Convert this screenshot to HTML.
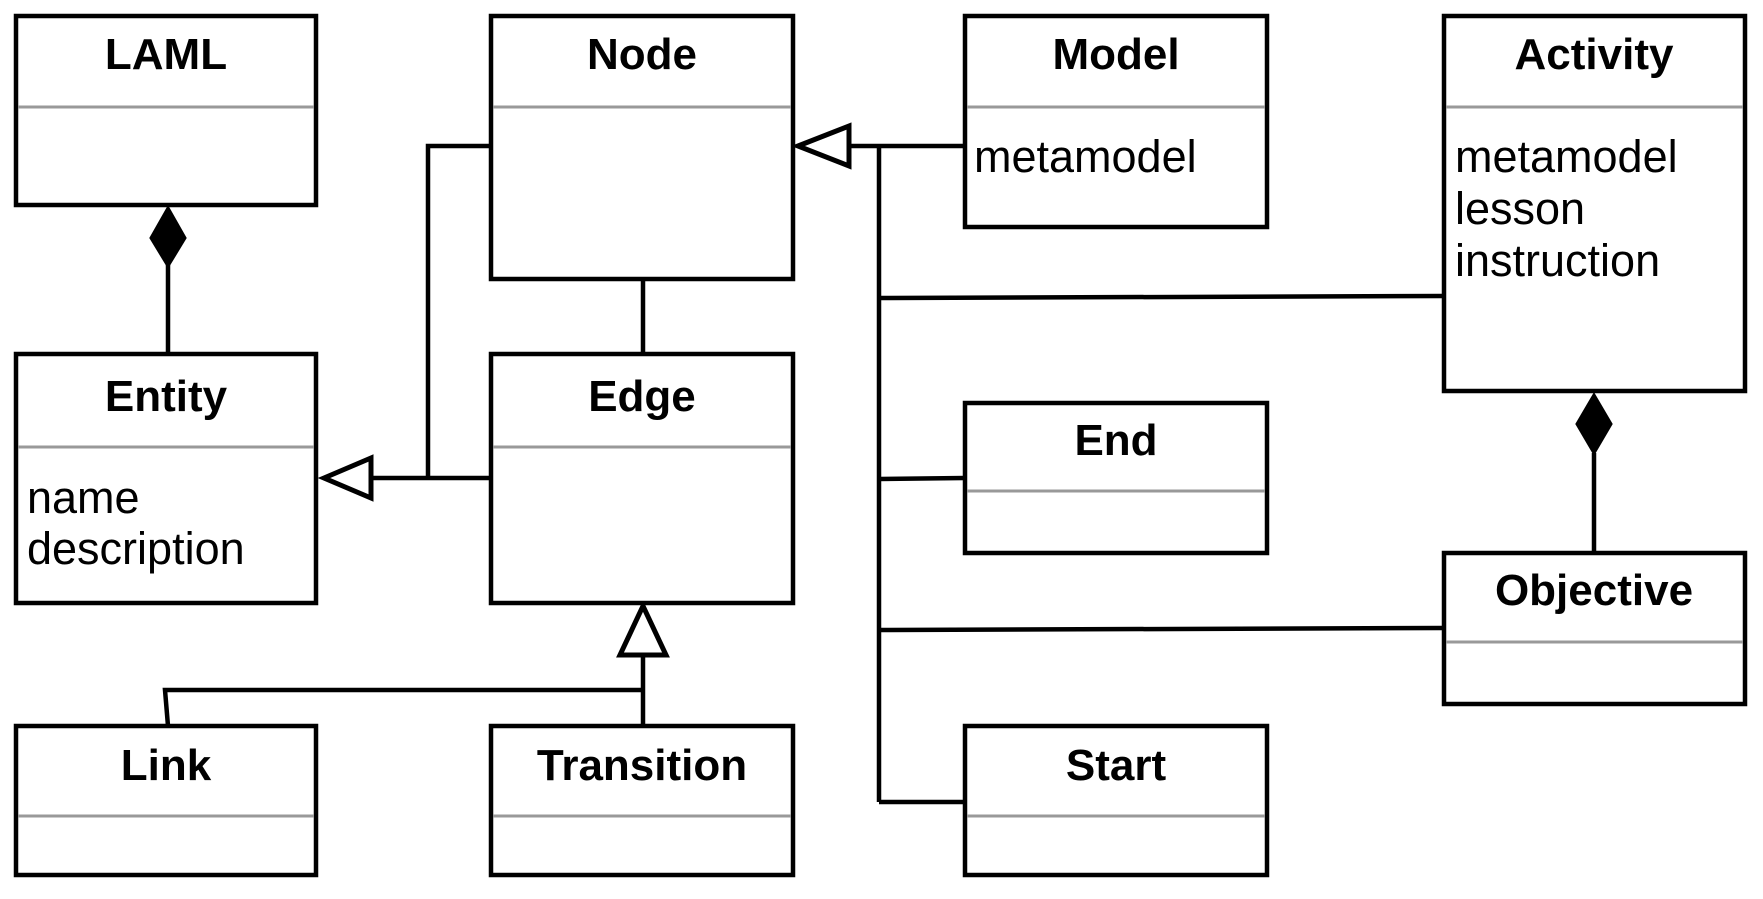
<!DOCTYPE html>
<html><head><meta charset="utf-8"><style>
html,body{margin:0;padding:0;background:#fff;}
svg{display:block;}
text{font-family:"Liberation Sans",Arial,sans-serif;fill:#000;}
.t{font-weight:bold;font-size:44px;text-anchor:middle;}
.a{font-size:45px;}
</style></head><body>
<svg width="1763" height="899" viewBox="0 0 1763 899" xmlns="http://www.w3.org/2000/svg">
<g fill="none" stroke="#000" stroke-width="4.5">
<line x1="168" y1="265" x2="168" y2="354"/>
<line x1="643" y1="279" x2="643" y2="354"/>
<polyline points="491,146 428,146 428,478"/>
<line x1="371" y1="478" x2="491" y2="478"/>
<line x1="849" y1="146" x2="965" y2="146"/>
<line x1="879" y1="146" x2="879" y2="802"/>
<line x1="879" y1="298" x2="1444" y2="296"/>
<line x1="879" y1="479" x2="965" y2="478"/>
<line x1="879" y1="630" x2="1444" y2="628"/>
<line x1="879" y1="802" x2="965" y2="802"/>
<line x1="1594" y1="453" x2="1594" y2="553"/>
<line x1="643" y1="655" x2="643" y2="726"/>
<polyline points="643,690 165,690 168,726"/>
</g>
<g stroke="#000" stroke-width="5">
<polygon points="324,478 371,458 371,498" fill="#fff"/>
<polygon points="798,146 849,126 849,166" fill="#fff"/>
<polygon points="643,606 620,655 666,655" fill="#fff"/>
<polygon points="168,208 185,238 168,266 151,238" fill="#000" stroke-width="3"/>
<polygon points="1594,395 1611,424 1594,453 1577,424" fill="#000" stroke-width="3"/>
</g>
<g fill="#fff" stroke="#000" stroke-width="4.5">
<rect x="16" y="16" width="300" height="189"/>
<rect x="491" y="16" width="302" height="263"/>
<rect x="965" y="16" width="302" height="211"/>
<rect x="1444" y="16" width="301" height="375"/>
<rect x="16" y="354" width="300" height="249"/>
<rect x="491" y="354" width="302" height="249"/>
<rect x="965" y="403" width="302" height="150"/>
<rect x="1444" y="553" width="301" height="151"/>
<rect x="16" y="726" width="300" height="149"/>
<rect x="491" y="726" width="302" height="149"/>
<rect x="965" y="726" width="302" height="149"/>
</g>
<g stroke="#999" stroke-width="3">
<line x1="18" y1="107" x2="314" y2="107"/>
<line x1="493" y1="107" x2="791" y2="107"/>
<line x1="967" y1="107" x2="1265" y2="107"/>
<line x1="1446" y1="107" x2="1743" y2="107"/>
<line x1="18" y1="447" x2="314" y2="447"/>
<line x1="493" y1="447" x2="791" y2="447"/>
<line x1="967" y1="491" x2="1265" y2="491"/>
<line x1="1446" y1="642" x2="1743" y2="642"/>
<line x1="18" y1="816" x2="314" y2="816"/>
<line x1="493" y1="816" x2="791" y2="816"/>
<line x1="967" y1="816" x2="1265" y2="816"/>
</g>
<text class="t" x="166" y="69">LAML</text>
<text class="t" x="642" y="69">Node</text>
<text class="t" x="1116" y="69">Model</text>
<text class="t" x="1594" y="69">Activity</text>
<text class="t" x="166" y="411">Entity</text>
<text class="t" x="642" y="411">Edge</text>
<text class="t" x="1116" y="455">End</text>
<text class="t" x="1594" y="605">Objective</text>
<text class="t" x="166" y="780">Link</text>
<text class="t" x="642" y="780">Transition</text>
<text class="t" x="1116" y="780">Start</text>
<text class="a" x="974" y="172">metamodel</text>
<text class="a" x="1455" y="172">metamodel</text>
<text class="a" x="1455" y="224">lesson</text>
<text class="a" x="1455" y="276">instruction</text>
<text class="a" x="27" y="513">name</text>
<text class="a" x="27" y="564">description</text>
</svg>
</body></html>
